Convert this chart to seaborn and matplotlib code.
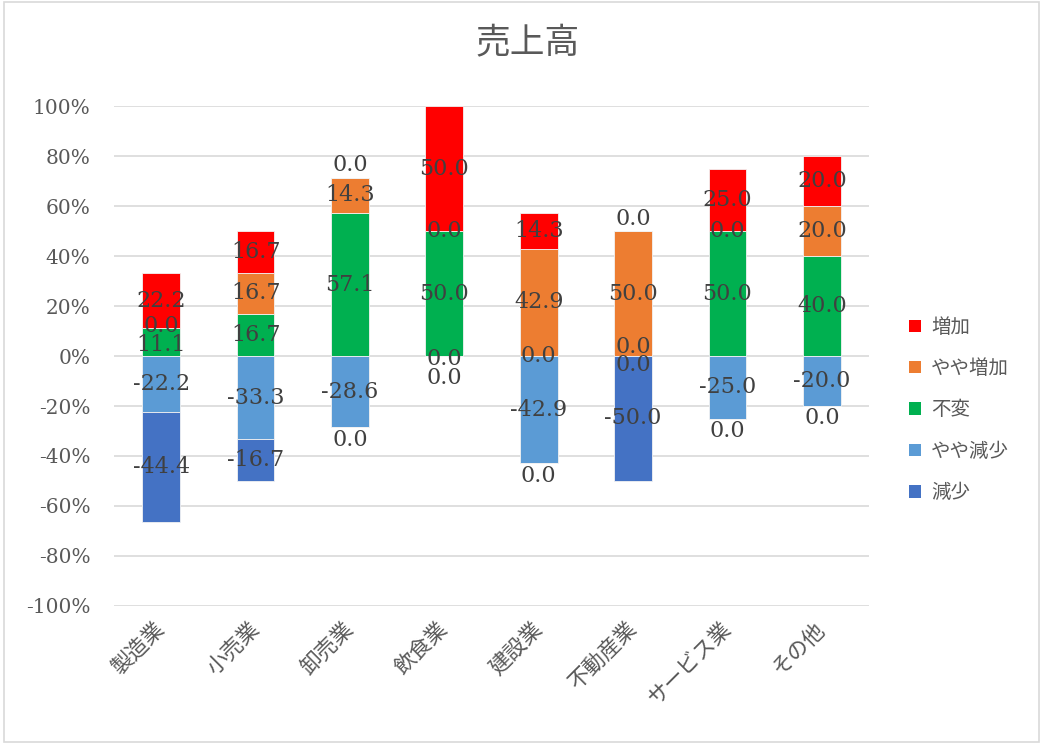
import numpy as np
import matplotlib
matplotlib.use("Agg")
import matplotlib.pyplot as plt
from matplotlib.patches import Patch, Rectangle
import seaborn as sns

# 業種別 売上高の増減（構成比 %）
categories = ["製造業", "小売業", "卸売業", "飲食業", "建設業", "不動産業", "サービス業", "その他"]
increase = [22.2, 16.7, 0.0, 50.0, 14.3, 0.0, 25.0, 20.0]          # 増加
slight_increase = [0.0, 16.7, 14.3, 0.0, 42.9, 50.0, 0.0, 20.0]     # やや増加
unchanged = [11.1, 16.7, 57.1, 50.0, 0.0, 0.0, 50.0, 40.0]          # 不変
slight_decrease = [-22.2, -33.3, -28.6, 0.0, -42.9, 0.0, -25.0, -20.0]  # やや減少
decrease = [-44.4, -16.7, 0.0, 0.0, 0.0, -50.0, 0.0, 0.0]           # 減少
y_ticks = [-100, -80, -60, -40, -20, 0, 20, 40, 60, 80, 100]
title = "売上高"

colors = {
    "増加": "#FF0000",
    "やや増加": "#ED7D31",
    "不変": "#00B050",
    "やや減少": "#5B9BD5",
    "減少": "#4472C4",
}

# stacking order: positives grow upward from 0, negatives grow downward
positive_stack = [("不変", unchanged), ("やや増加", slight_increase), ("増加", increase)]
negative_stack = [("やや減少", slight_decrease), ("減少", decrease)]
legend_order = ["増加", "やや増加", "不変", "やや減少", "減少"]

sns.set_theme(style="white")
plt.rcParams["font.family"] = ["Noto Sans CJK JP", "DejaVu Sans"]

fig = plt.figure(figsize=(10.42, 7.44), dpi=100)
ax = fig.add_axes([0.1094, 0.1855, 0.7246, 0.672])

n = len(categories)
segments = {}  # name -> (bottom array, values array)
for stack in (positive_stack, negative_stack):
    base = np.zeros(n)
    for name, vals in stack:
        v = np.asarray(vals, dtype=float)
        segments[name] = (base.copy(), v)
        sns.barplot(x=categories, y=v, bottom=base.copy(), order=categories,
                    color=colors[name], saturation=1, width=0.4,
                    edgecolor="#f2f2f2", linewidth=0.6, errorbar=None, ax=ax)
        base = base + v

# data labels
OUT = 5.0      # offset for zero labels sitting on the outer end of a stack
MIN_GAP = 7.5  # minimum vertical separation between labels in one bar
for i in range(n):
    items = []
    for stack, sign in ((positive_stack, 1), (negative_stack, -1)):
        names = [s[0] for s in stack]
        for k, name in enumerate(names):
            b, v = segments[name]
            val = v[i]
            if val != 0:
                y = b[i] + val / 2
            else:
                y = b[i]
                outer = all(segments[m][1][i] == 0 for m in names[k + 1:])
                if outer:
                    y += sign * OUT
            items.append([y, f"{val:.1f}"])
    items.sort(key=lambda t: t[0])
    for _ in range(20):
        moved = False
        for k in range(len(items) - 1):
            gap = items[k + 1][0] - items[k][0]
            if gap < MIN_GAP:
                d = (MIN_GAP - gap) / 2
                items[k][0] -= d
                items[k + 1][0] += d
                moved = True
        if not moved:
            break
    for y, txt in items:
        ax.text(i, y, txt, ha="center", va="center", fontsize=16,
                color="#404040", family="DejaVu Serif")

ax.set_ylim(-100, 100)
ax.set_xlim(-0.5, n - 0.5)
ax.set_yticks(y_ticks)
ax.set_yticklabels([f"{t}%" for t in y_ticks], family="DejaVu Serif",
                   fontsize=14.5, color="#595959")
ax.set_xticks(range(n))
ax.set_xticklabels(categories, rotation=45, ha="right", va="center",
                   rotation_mode="anchor", fontsize=15.5, color="#595959")
ax.tick_params(axis="both", length=0)
ax.tick_params(axis="y", pad=17)
ax.tick_params(axis="x", pad=14)
ax.set_xlabel("")
ax.set_ylabel("")
ax.yaxis.grid(True, color="#d9d9d9", linewidth=1.2)
ax.set_axisbelow(True)
for sp in ax.spines.values():
    sp.set_visible(False)

fig.suptitle(title, x=0.506, y=0.965, fontsize=25, color="#595959")

handles = [Patch(facecolor=colors[k], edgecolor="none", label=k) for k in legend_order]
fig.legend(handles=handles, loc="center left", bbox_to_anchor=(0.856, 0.449),
           frameon=False, fontsize=14, labelcolor="#595959",
           handlelength=0.6, handleheight=0.6, handletextpad=0.5, labelspacing=1.05)

fig.patches.append(Rectangle((0.004, 0.003), 0.993, 0.994, transform=fig.transFigure,
                             fill=False, edgecolor="#d9d9d9", linewidth=1.2))

fig.savefig("out.png", dpi=100)
